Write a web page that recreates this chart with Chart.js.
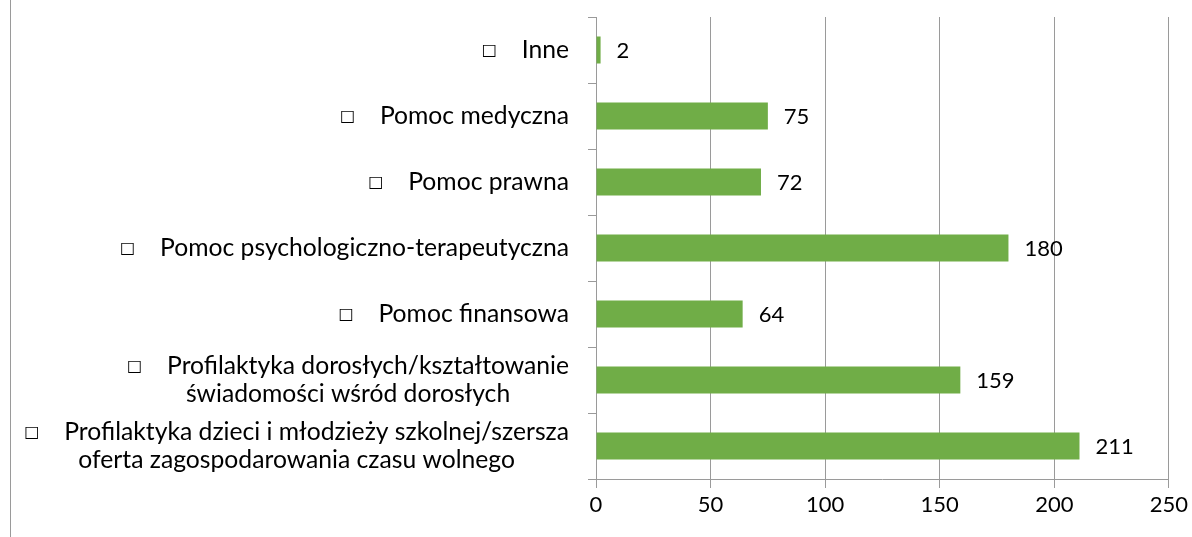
<!DOCTYPE html>
<html>
<head>
<meta charset="utf-8">
<script src="https://cdn.jsdelivr.net/npm/chart.js@4/dist/chart.umd.min.js"></script>
<style>
html, body { margin: 0; padding: 0; background: #fff; }
#wrap { position: relative; width: 1192px; height: 537px; }
#frame { position: absolute; left: 10px; top: 0; width: 1px; height: 537px; background: #9a9a9a; }
canvas { position: absolute; left: 0; top: 0; }
</style>
</head>
<body>
<div id="wrap">
  <div id="frame"></div>
  <canvas id="chart" width="1192" height="537"></canvas>
</div>
<script>
// category labels (multi-line ones as arrays), top to bottom
var categories = [
    ['Inne'],
    ['Pomoc medyczna'],
    ['Pomoc prawna'],
    ['Pomoc psychologiczno-terapeutyczna'],
    ['Pomoc finansowa'],
    ['Profilaktyka dorosłych/kształtowanie', 'świadomości wśród dorosłych'],
    ['Profilaktyka dzieci i młodzieży szkolnej/szersza', 'oferta zagospodarowania czasu wolnego']
];
var values = [2, 75, 72, 180, 64, 159, 211];
var xTicks = [0, 50, 100, 150, 200, 250];

var fontFamily = 'Lato, "Open Sans", sans-serif';
var gridColor = '#9a9a9a';

// draws the category names: box marker, then text, lines centred in their block
var categoryLabels = {
    id: 'categoryLabels',
    afterDraw: function(chart) {
        var ctx = chart.ctx;
        var scale = chart.scales.y;
        var right = scale.right - 27;
        var lineHeight = 28;
        var font = '24.7px ' + fontFamily;
        ctx.save();
        ctx.fillStyle = '#000';
        ctx.textBaseline = 'middle';
        ctx.textAlign = 'left';
        for (var i = 0; i < categories.length; i++) {
            var lines = categories[i];
            var yMid = scale.getPixelForTick(i);
            ctx.font = font;
            var widths = lines.map(function(l) { return ctx.measureText(l).width; });
            widths[0] += 40; // room for the box marker
            var blockW = Math.max.apply(null, widths);
            var centre = right - blockW / 2;
            var y0 = yMid - (lines.length - 1) * lineHeight / 2;
            for (var j = 0; j < lines.length; j++) {
                var start = centre - widths[j] / 2;
                var y = y0 + j * lineHeight;
                if (j == 0) {
                    ctx.font = '16px "DejaVu Sans"';
                    ctx.fillText('\u25A1', start, y + 1);
                    ctx.font = font;
                    ctx.fillText(lines[j], start + 40, y);
                } else {
                    ctx.fillText(lines[j], start, y);
                }
            }
        }
        ctx.restore();
    }
};

// value labels at the end of each bar
var valueLabels = {
    id: 'valueLabels',
    afterDatasetsDraw: function(chart) {
        var ctx = chart.ctx;
        var meta = chart.getDatasetMeta(0);
        ctx.save();
        ctx.font = '22px ' + fontFamily;
        ctx.fillStyle = '#000';
        ctx.textAlign = 'left';
        ctx.textBaseline = 'middle';
        meta.data.forEach(function(bar, i) {
            ctx.fillText(String(values[i]), bar.x + 16, bar.y + 1);
        });
        ctx.restore();
    }
};

new Chart(document.getElementById('chart'), {
    type: 'bar',
    data: {
        labels: categories.map(function(c) { return c.join(' '); }),
        datasets: [{
            data: values,
            backgroundColor: '#70AD47',
            borderWidth: 0,
            barPercentage: 0.41,
            categoryPercentage: 1
        }]
    },
    options: {
        indexAxis: 'y',
        responsive: false,
        animation: false,
        devicePixelRatio: 1,
        layout: { padding: { left: 0, top: 17, right: 21, bottom: 0 } },
        plugins: {
            legend: { display: false },
            tooltip: { enabled: false }
        },
        scales: {
            x: {
                min: 0,
                max: 250,
                afterBuildTicks: function(scale) {
                    scale.ticks = xTicks.map(function(v) { return { value: v }; });
                },
                afterFit: function(scale) { scale.height = 58; },
                grid: { color: gridColor, tickLength: 9, lineWidth: 1 },
                border: { color: gridColor },
                ticks: {
                    color: '#000',
                    font: { family: fontFamily, size: 22 },
                    padding: 4
                }
            },
            y: {
                afterFit: function(scale) { scale.width = 596; },
                grid: { offset: true, drawOnChartArea: false, color: gridColor, tickLength: 8 },
                border: { color: gridColor },
                ticks: { color: 'rgba(0,0,0,0)', font: { family: fontFamily, size: 22 } }
            }
        }
    },
    plugins: [categoryLabels, valueLabels]
});
</script>
</body>
</html>
